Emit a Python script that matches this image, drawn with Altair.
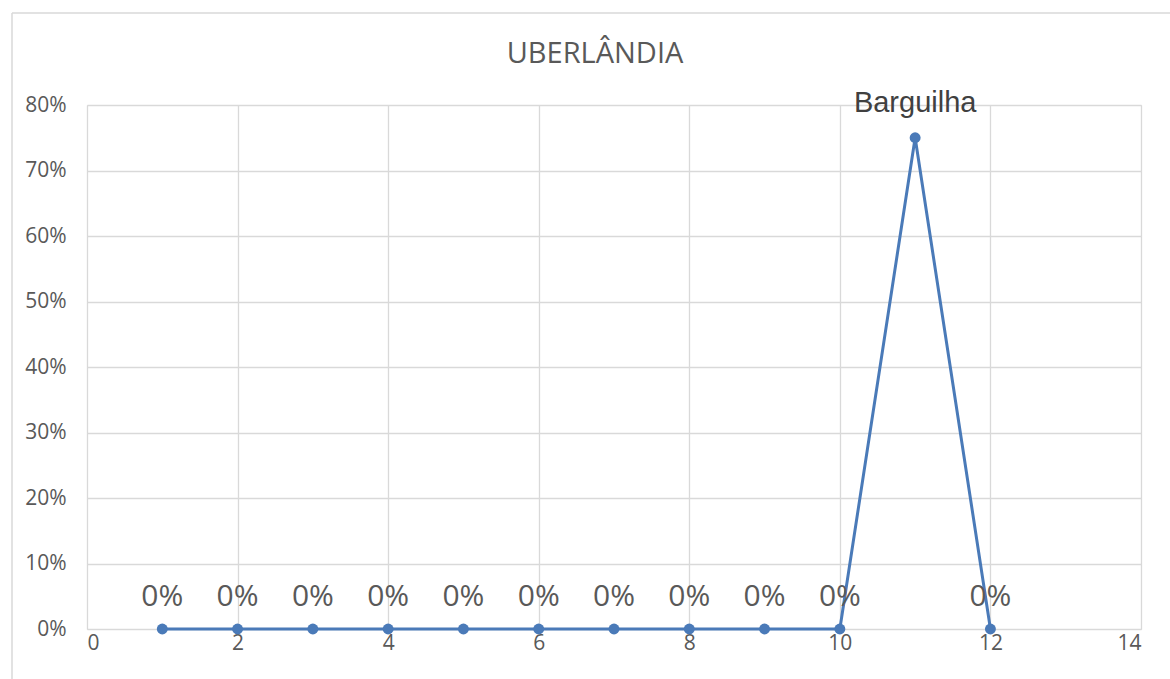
import altair as alt
import pandas as pd

x_vals = [1, 2, 3, 4, 5, 6, 7, 8, 9, 10, 11, 12]
y_vals = [0, 0, 0, 0, 0, 0, 0, 0, 0, 0, 0.75, 0]
labels = ["0%", "0%", "0%", "0%", "0%", "0%", "0%", "0%", "0%", "0%", "Barguilha", "0%"]
x_ticks = [0, 2, 4, 6, 8, 10, 12, 14]
y_ticks = [0, 0.1, 0.2, 0.3, 0.4, 0.5, 0.6, 0.7, 0.8]
title_text = ["UBERLÂNDIA"]

df = pd.DataFrame({"x": x_vals, "y": y_vals, "label": labels})
df["is_name"] = df["label"] != "0%"

W, H = 1054, 524
BLUE = "#4a7ab8"

xs = alt.X("x:Q", scale=alt.Scale(domain=[0, 14], nice=False, zero=False),
           axis=alt.Axis(values=x_ticks, format="d", title=None, labelPadding=3,
                         labelFontSize=21, labelFont="Open Sans", labelColor="#595959"))
ys = alt.Y("y:Q", scale=alt.Scale(domain=[0, 0.8], nice=False),
           axis=alt.Axis(values=y_ticks, format=".0%", title=None, labelPadding=21,
                         labelFontSize=21, labelFont="Open Sans", labelColor="#595959"))

base = alt.Chart(df)
line = base.mark_line(color=BLUE, strokeWidth=3).encode(x=xs, y=ys)
pts = base.mark_point(filled=True, color=BLUE, size=120, opacity=1).encode(x="x:Q", y="y:Q")
zero_lbl = base.transform_filter("!datum.is_name").mark_text(
    dy=-32, fontSize=30, font="Open Sans", color="#595959"
).encode(x="x:Q", y="y:Q", text="label:N")
name_lbl = base.transform_filter("datum.is_name").mark_text(
    dy=-35, fontSize=29, font="Liberation Sans", color="#404040"
).encode(x="x:Q", y="y:Q", text="label:N")

title = alt.Chart(pd.DataFrame({"t": title_text})).mark_text(
    fontSize=29, font="Open Sans", color="#595959", baseline="alphabetic", align="center"
).encode(x=alt.value(508), y=alt.value(-42), text="t:N")

border_top = alt.Chart(pd.DataFrame({"a": [0]})).mark_rule(
    color="#d9d9d9", strokeWidth=1.5, clip=False
).encode(x=alt.value(-75), x2=alt.value(1083), y=alt.value(-92))
border_left = alt.Chart(pd.DataFrame({"a": [0]})).mark_rule(
    color="#d9d9d9", strokeWidth=1.5, clip=False
).encode(x=alt.value(-75), y=alt.value(-92), y2=alt.value(574))

chart = alt.layer(line, pts, zero_lbl, name_lbl, title, border_top, border_left).properties(
    width=W, height=H,
    autosize=alt.AutoSizeParams(type="none"),
    padding={"left": 87, "top": 105, "right": 29, "bottom": 50},
).configure_view(stroke=None).configure(background="white").configure_axis(
    grid=True, gridColor="#d9d9d9", gridWidth=1.3, ticks=False, domain=False
)

chart.save("out.html", embed_options={"renderer": "svg", "actions": False})
